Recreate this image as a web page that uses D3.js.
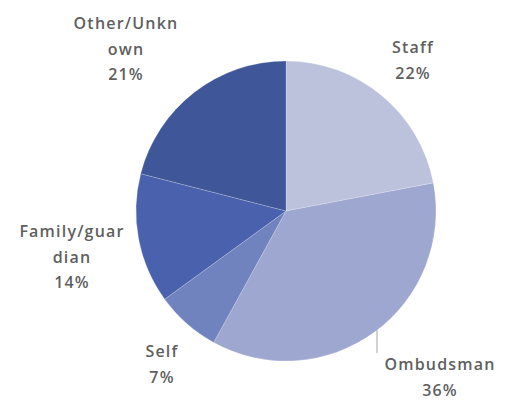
<!DOCTYPE html>
<html>
<head>
<meta charset="utf-8">
<script src="https://cdn.jsdelivr.net/npm/d3@7"></script>
<style>
  html, body { margin: 0; padding: 0; background: #ffffff; }
  svg { display: block; }
  .lbl { font-family: "Open Sans", "Noto Sans", sans-serif; font-size: 16px; font-weight: 600; fill: #5f5f5f; letter-spacing: 1.2px; }
</style>
</head>
<body>
<svg id="chart" width="509" height="401"></svg>
<script>
// Referral sources, share of cases (%)
const categories = ["Staff", "Ombudsman", "Self", "Family/guardian", "Other/Unknown"];
const values = [22, 36, 7, 14, 21];
// Labels wrap the way the chart wraps them
const labelLines = [
  ["Staff", "22%"],
  ["Ombudsman", "36%"],
  ["Self", "7%"],
  ["Family/guar", "dian", "14%"],
  ["Other/Unkn", "own", "21%"]
];
const colors = ["#bcc2dc", "#9ea7cf", "#7183bf", "#4a62ad", "#3f5799"];

const svg = d3.select("#chart");
const cx = 286, cy = 211, r = 150;

const data = categories.map((c, i) => ({ name: c, value: values[i], lines: labelLines[i], color: colors[i] }));

const pie = d3.pie().value(d => d.value).sort(null);
const arcs = pie(data);
const arc = d3.arc().innerRadius(0).outerRadius(r);

const g = svg.append("g").attr("transform", `translate(${cx},${cy})`);

g.selectAll("path.slice")
  .data(arcs)
  .join("path")
  .attr("class", "slice")
  .attr("d", arc)
  .attr("fill", d => d.data.color)
  .attr("stroke", "#ffffff")
  .attr("stroke-opacity", 0.25)
  .attr("stroke-width", 0.8);

// Label positions (baseline of the first line), one per slice
const labelPos = {
  "Staff":            { x: 413, y: 53 },
  "Ombudsman":        { x: 440, y: 370 },
  "Self":             { x: 162, y: 357 },
  "Family/guardian":  { x: 72,  y: 237 },
  "Other/Unknown":    { x: 126, y: 29 }
};
const lineGap = 25.5;

const labels = svg.selectAll("text.lbl")
  .data(arcs)
  .join("text")
  .attr("class", "lbl")
  .attr("text-anchor", "middle")
  .attr("x", d => labelPos[d.data.name].x)
  .attr("y", d => labelPos[d.data.name].y);

labels.selectAll("tspan")
  .data(d => d.data.lines.map(t => ({ t, x: labelPos[d.data.name].x })))
  .join("tspan")
  .attr("x", d => d.x)
  .attr("dy", (d, i) => i === 0 ? 0 : lineGap)
  .text(d => d.t);

// Leader line for the Ombudsman label
svg.append("line")
  .attr("x1", 377).attr("y1", 330)
  .attr("x2", 377).attr("y2", 353)
  .attr("stroke", "#a6a6a6")
  .attr("stroke-width", 1);
</script>
</body>
</html>
